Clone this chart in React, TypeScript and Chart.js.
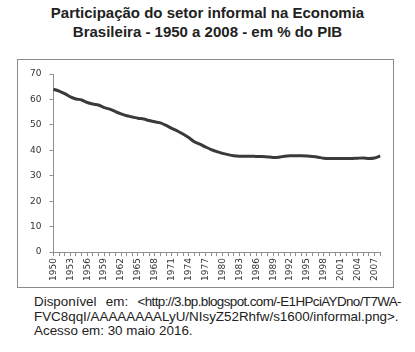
import React, { useEffect, useRef } from "react";
import { Chart, registerables } from "chart.js";

Chart.register(...registerables);

const years: string[] = [
  "1950", "1951", "1952", "1953", "1954", "1955", "1956", "1957", "1958", "1959",
  "1960", "1961", "1962", "1963", "1964", "1965", "1966", "1967", "1968", "1969",
  "1970", "1971", "1972", "1973", "1974", "1975", "1976", "1977", "1978", "1979",
  "1980", "1981", "1982", "1983", "1984", "1985", "1986", "1987", "1988", "1989",
  "1990", "1991", "1992", "1993", "1994", "1995", "1996", "1997", "1998", "1999",
  "2000", "2001", "2002", "2003", "2004", "2005", "2006", "2007", "2008",
];

const informalShare: number[] = [
  64.0, 63.3, 62.3, 61.0, 60.2, 59.8, 58.8, 58.2, 57.8, 56.8,
  56.2, 55.2, 54.3, 53.6, 53.1, 52.6, 52.3, 51.7, 51.2, 50.8,
  49.8, 48.6, 47.6, 46.4, 45.0, 43.4, 42.4, 41.3, 40.3, 39.5,
  38.8, 38.3, 37.9, 37.7, 37.7, 37.7, 37.6, 37.6, 37.4, 37.2,
  37.3, 37.7, 37.9, 37.9, 37.9, 37.8, 37.6, 37.3, 36.9, 36.8,
  36.8, 36.8, 36.8, 36.8, 36.9, 37.0, 36.8, 37.0, 37.8,
];

const yTicks: number[] = [0, 10, 20, 30, 40, 50, 60, 70];

const titleLines: string[] = [
  "Participação do setor informal na Economia",
  "Brasileira - 1950 a 2008 - em % do PIB",
];

const sourceFirstLineWords: string[] = [
  "Disponível",
  "em:",
  "<http://3.bp.blogspot.com/-E1HPciAYDno/T7WA-",
];

const sourceLines: string[] = [
  "FVC8qqI/AAAAAAAALyU/NIsyZ52Rhfw/s1600/informal.png>.",
  "Acesso em: 30 maio 2016.",
];

export default function App() {
  const canvasRef = useRef<HTMLCanvasElement | null>(null);

  useEffect(() => {
    if (!canvasRef.current) return;
    const chart = new Chart(canvasRef.current, {
      type: "line",
      data: {
        labels: years,
        datasets: [
          {
            data: informalShare,
            borderColor: "#3a3a3a",
            borderWidth: 3,
            pointRadius: 0,
            tension: 0.25,
            fill: false,
          },
        ],
      },
      options: {
        animation: false,
        responsive: false,
        maintainAspectRatio: false,
        layout: { padding: { left: 4, top: 14, right: 11, bottom: 4 } },
        plugins: {
          legend: { display: false },
          tooltip: { enabled: false },
          title: { display: false },
        },
        scales: {
          x: {
            offset: false,
            grid: {
              display: true,
              drawOnChartArea: false,
              drawTicks: true,
              tickLength: 4,
              color: "#909090",
            },
            border: { display: true, color: "#909090", width: 1 },
            ticks: {
              autoSkip: false,
              minRotation: 90,
              maxRotation: 90,
              padding: 2,
              color: "#333",
              font: { family: "DejaVu Sans", size: 9 },
              callback: (_v: any, i: number) => (i % 3 === 0 ? years[i] : ""),
            },
          },
          y: {
            min: 0,
            max: 70,
            afterBuildTicks: (axis: any) => {
              axis.ticks = yTicks.map((v) => ({ value: v }));
            },
            grid: {
              display: true,
              drawOnChartArea: false,
              drawTicks: true,
              tickLength: 4,
              color: "#909090",
            },
            border: { display: true, color: "#909090", width: 1 },
            ticks: {
              padding: 8,
              color: "#333",
              font: { family: "DejaVu Sans", size: 9 },
            },
          },
        },
      },
    });
    return () => chart.destroy();
  }, []);

  return (
    <div
      style={{
        position: "absolute",
        left: 0,
        top: 0,
        width: 415,
        height: 352,
        background: "#fff",
        overflow: "hidden",
      }}
    >
      <div
        style={{
          position: "absolute",
          top: 3,
          left: 0,
          width: 415,
          textAlign: "center",
          fontFamily: "'Liberation Sans', Arial, sans-serif",
          fontWeight: "bold",
          fontSize: 15,
          lineHeight: "19px",
          color: "#222",
        }}
      >
        {titleLines.map((t, i) => (
          <div key={i}>{t}</div>
        ))}
      </div>
      <div
        style={{
          position: "absolute",
          left: 17,
          top: 59,
          width: 377,
          height: 229,
          border: "1px solid #8a8a8a",
          boxSizing: "border-box",
        }}
      />
      <canvas
        ref={canvasRef}
        width={375}
        height={227}
        style={{ position: "absolute", left: 18, top: 60, width: 375, height: 227 }}
      />
      <div
        style={{
          position: "absolute",
          left: 34,
          top: 295,
          width: 367,
          fontFamily: "'Liberation Sans', Arial, sans-serif",
          fontSize: 13.4,
          lineHeight: "14.5px",
          color: "#222",
          whiteSpace: "nowrap",
        }}
      >
        <div style={{ display: "flex", justifyContent: "space-between" }}>
          <span>{sourceFirstLineWords[0]}</span>
          <span>{sourceFirstLineWords[1]}</span>
          <span style={{ letterSpacing: "-0.6px" }}>{sourceFirstLineWords[2]}</span>
        </div>
        {sourceLines.map((t, i) => (
          <div key={i}>{t}</div>
        ))}
      </div>
    </div>
  );
}
